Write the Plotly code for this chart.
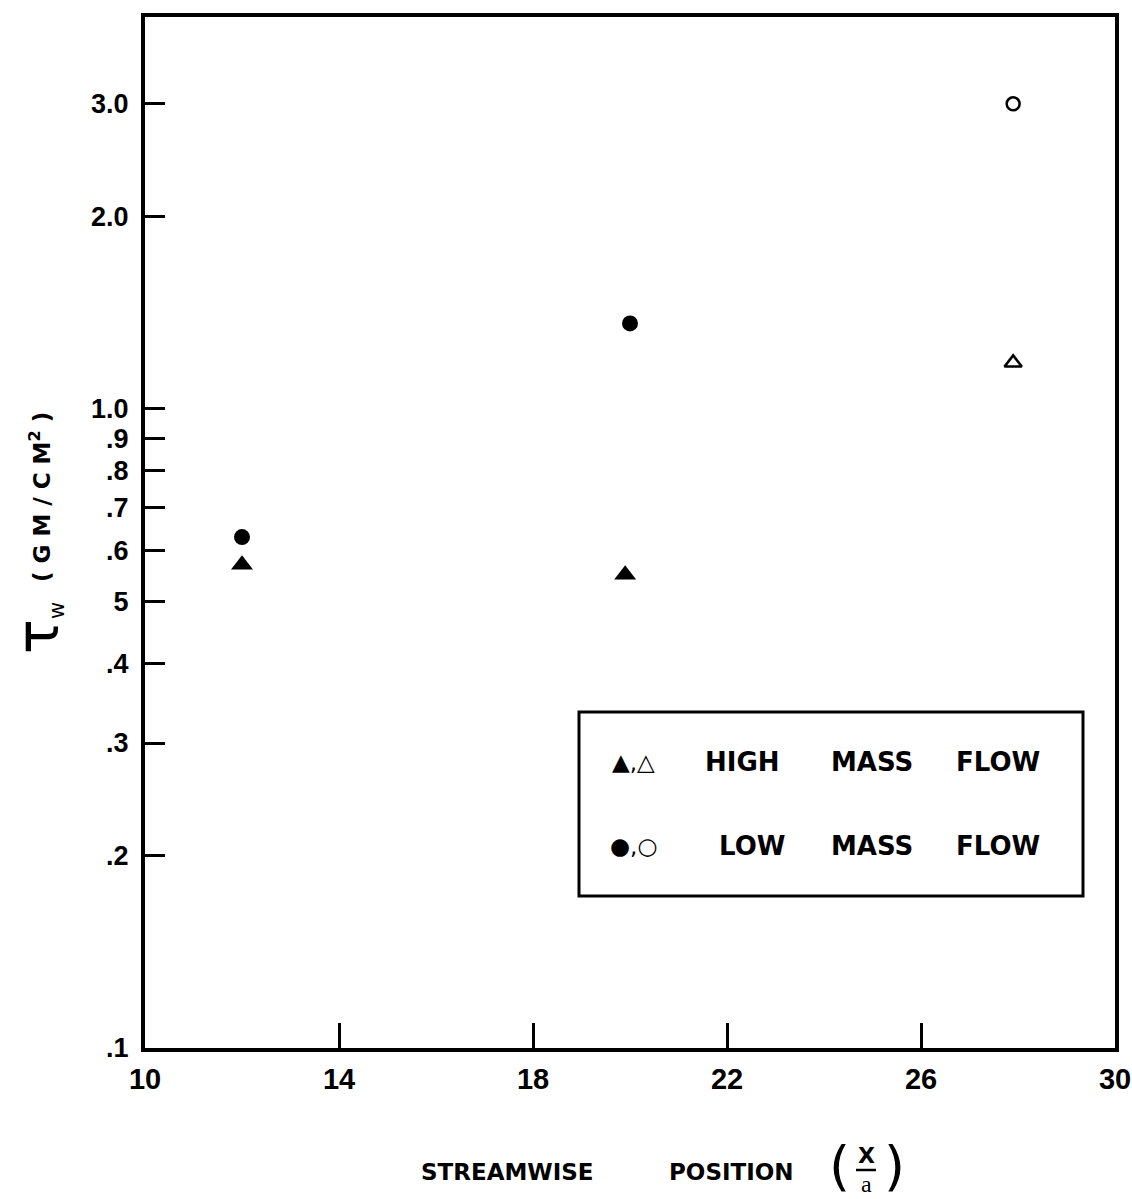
import plotly.graph_objects as go

# ---- data ----
high_filled_x = [12.0, 19.9]
high_filled_y = [0.57, 0.55]
low_filled_x = [12.0, 20.0]
low_filled_y = [0.63, 1.36]
high_open_x = [27.9]
high_open_y = [1.18]
low_open_x = [27.9]
low_open_y = [3.0]

x_tickvals = [10, 14, 18, 22, 26, 30]
x_ticktext = ["10", "14", "18", "22", "26", "30"]
y_tickvals = [3.0, 2.0, 1.0, 0.9, 0.8, 0.7, 0.6, 0.5, 0.4, 0.3, 0.2, 0.1]
y_ticktext = ["3.0", "2.0", "1.0", ".9", ".8", ".7", ".6", "5", ".4", ".3", ".2", ".1"]

legend_rows = [("▲,△", ["HIGH", "MASS", "FLOW"]), ("●,○", ["LOW", "MASS", "FLOW"])]

# ---- layout geometry (pixels) ----
W, H = 1132, 1199
L, R, T, B = 145, 1115, 17, 1048


def px(x):
    return (x - L) / (R - L)


def py(y):
    return (B - y) / (B - T)


FONT = "Liberation Sans"
BFONT = "DejaVu Sans"

fig = go.Figure()
fig.add_trace(go.Scatter(x=high_filled_x, y=high_filled_y, mode="markers",
                         marker=dict(symbol="triangle-up", size=19, color="black"),
                         name="High mass flow (filled)"))
fig.add_trace(go.Scatter(x=low_filled_x, y=low_filled_y, mode="markers",
                         marker=dict(symbol="circle", size=16, color="black"),
                         name="Low mass flow (filled)"))
fig.add_trace(go.Scatter(x=high_open_x, y=high_open_y, mode="markers",
                         marker=dict(symbol="triangle-up-open", size=15, color="black",
                                     line=dict(width=2.5, color="black")),
                         name="High mass flow (open)"))
fig.add_trace(go.Scatter(x=low_open_x, y=low_open_y, mode="markers",
                         marker=dict(symbol="circle-open", size=13, color="black",
                                     line=dict(width=2.5, color="black")),
                         name="Low mass flow (open)"))

fig.update_layout(
    width=W, height=H,
    margin=dict(l=L, r=W - R, t=T, b=H - B, pad=0),
    plot_bgcolor="white", paper_bgcolor="white",
    showlegend=False,
    font=dict(family=FONT, color="black"),
)

fig.update_xaxes(
    range=[10, 30], tickvals=x_tickvals, ticktext=x_ticktext,
    showgrid=False, zeroline=False, automargin=False,
    showline=True, mirror=True, linecolor="black", linewidth=4,
    ticks="inside", ticklen=25, tickwidth=3, tickcolor="black",
    tickfont=dict(family=FONT, size=29, color="black", weight="bold"),
    ticklabelstandoff=2,
)
fig.update_yaxes(
    type="log", range=[-1, 0.613], tickvals=y_tickvals, ticktext=y_ticktext,
    showgrid=False, zeroline=False, automargin=False,
    showline=True, mirror=True, linecolor="black", linewidth=4,
    ticks="inside", ticklen=20, tickwidth=3, tickcolor="black",
    tickfont=dict(family=FONT, size=27, color="black", weight="bold"),
    ticklabelstandoff=7,
)

ann = []
shapes = []


def label(x, y, text, size, family=BFONT, angle=0):
    ann.append(dict(x=px(x), y=py(y), xref="paper", yref="paper", text=text,
                    xanchor="center", yanchor="middle", textangle=angle,
                    showarrow=False, font=dict(family=family, size=size, color="black")))


# legend box
shapes.append(dict(type="rect", xref="paper", yref="paper",
                   x0=px(579), x1=px(1083), y0=py(896), y1=py(712),
                   line=dict(color="black", width=3), fillcolor="white", layer="above"))
row_y = [762, 846]
word_x = [[742, 872, 998], [752, 872, 998]]
for (sym, words), yy, xs in zip(legend_rows, row_y, word_x):
    label(633, yy, sym, 23)
    for w, xx in zip(words, xs):
        label(xx, yy, "<b>" + w + "</b>", 26)

# y-axis title: tau symbol with subscript w
label(38, 628, "<span style='font-size:58px'>τ</span><sub>w</sub>", 30, angle=-90)
label(40, 497, "<b>( G M / C M<sup>2</sup> )</b>", 23, angle=-90)

# x-axis title
label(507, 1172, "<b>STREAMWISE</b>", 23)
label(731, 1172, "<b>POSITION</b>", 23)
label(839, 1166, "(", 54)
label(894, 1166, ")", 54)
label(866, 1155, "<b>X</b>", 22)
label(866, 1184, "a", 24, family="Liberation Serif")
shapes.append(dict(type="line", xref="paper", yref="paper",
                   x0=px(856), x1=px(876), y0=py(1170), y1=py(1170),
                   line=dict(color="black", width=2.5)))

fig.update_layout(annotations=ann, shapes=shapes)

fig.write_html("out.html", config={"displayModeBar": False},
               post_script="document.body.style.margin='0';")
